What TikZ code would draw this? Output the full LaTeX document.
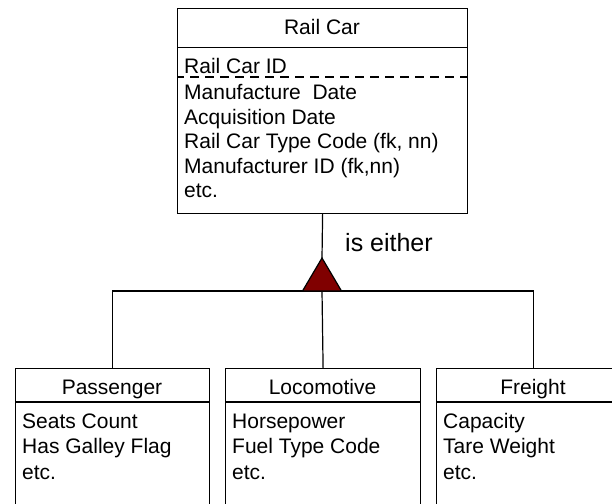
\documentclass[tikz,border=0pt]{standalone}
\usepackage{fontspec}
\setmainfont{Liberation Sans}
\definecolor{trired}{RGB}{128,0,0}
\begin{document}
\begin{tikzpicture}[x=1bp,y=-1bp,
  ln/.style={line width=1.2bp, draw=black},
  entbox/.style={ln, rectangle, inner sep=0pt, anchor=north west},
  txt/.style={inner sep=0pt, anchor=base west, font=\fontsize{21bp}{24bp}\selectfont},
  ttl/.style={inner sep=0pt, anchor=base, font=\fontsize{21bp}{24bp}\selectfont},
  lbl/.style={inner sep=0pt, anchor=base west, font=\fontsize{25bp}{28bp}\selectfont}]
\useasboundingbox (0,0) rectangle (612,504);
\fill[white] (0,0) rectangle (612,504);
\clip (0,0) rectangle (612,504);
% Rail Car
\node[entbox, minimum width=290bp, minimum height=205bp] (rc) at (177,8) {};
\node[ttl] (rct) at (322,35) {Rail Car};
\coordinate (rcdl) at (177,47.5);
\coordinate (rcdr) at (467,47.5);
\draw[ln] (rcdl) -- (rcdr);
\node[txt] (a1) at (184,74) {Rail Car ID};
\coordinate (pkl) at (177,77);
\coordinate (pkr) at (467,77);
\draw[ln, dash pattern=on 9bp off 6bp, dash phase=2bp] (pkl) -- (pkr);
\node[txt] (a2) at (184,100) {Manufacture\ \ Date};
\node[txt] (a3) at (184,124.5) {Acquisition Date};
\node[txt] (a4) at (184,149) {Rail Car Type Code (fk, nn)};
\node[txt] (a5) at (184,173.5) {Manufacturer ID (fk,nn)};
\node[txt] (a6) at (184,198) {etc.};
% children
\node[entbox, minimum width=194bp, minimum height=170bp] (pas) at (15,368) {};
\node[entbox, minimum width=195bp, minimum height=170bp] (loc) at (225,368) {};
\node[entbox, minimum width=194bp, minimum height=170bp] (fre) at (436,368) {};
\foreach \n/\l/\c in {pas/15/112, loc/225/322.5, fre/436/533}{
  \coordinate (\n dl) at (\l,402);
  \coordinate (\n dr) at (\l+195,402);
  \draw[ln] (\n dl) -- (\n dr);
}
\node[ttl] (past) at (112,394) {Passenger};
\node[ttl] (loct) at (322.5,394) {Locomotive};
\node[ttl] (fret) at (533,394) {Freight};
\node[txt] (p1) at (22,428) {Seats Count};
\node[txt] (p2) at (22,453.5) {Has Galley Flag};
\node[txt] (p3) at (22,479) {etc.};
\node[txt] (l1) at (232,428) {Horsepower};
\node[txt] (l2) at (232,453.5) {Fuel Type Code};
\node[txt] (l3) at (232,479) {etc.};
\node[txt] (f1) at (443,428) {Capacity};
\node[txt] (f2) at (443,453.5) {Tare Weight};
\node[txt] (f3) at (443,479) {etc.};
% connectors
\coordinate (apex) at (322,258);
\coordinate (j) at (322,291);
\coordinate (bl) at (302.5,291);
\coordinate (br) at (341.5,291);
\draw[ln] (rc.south) -- (apex);
\draw[ln] (pas.north) |- (j) -| (fre.north);
\draw[ln] (loc.north) -- (j);
\draw[ln, fill=trired, line join=miter] (apex) -- (br) -- (bl) -- cycle;
\node[lbl] (ie) at (345,251) {is either};
\end{tikzpicture}
\end{document}
